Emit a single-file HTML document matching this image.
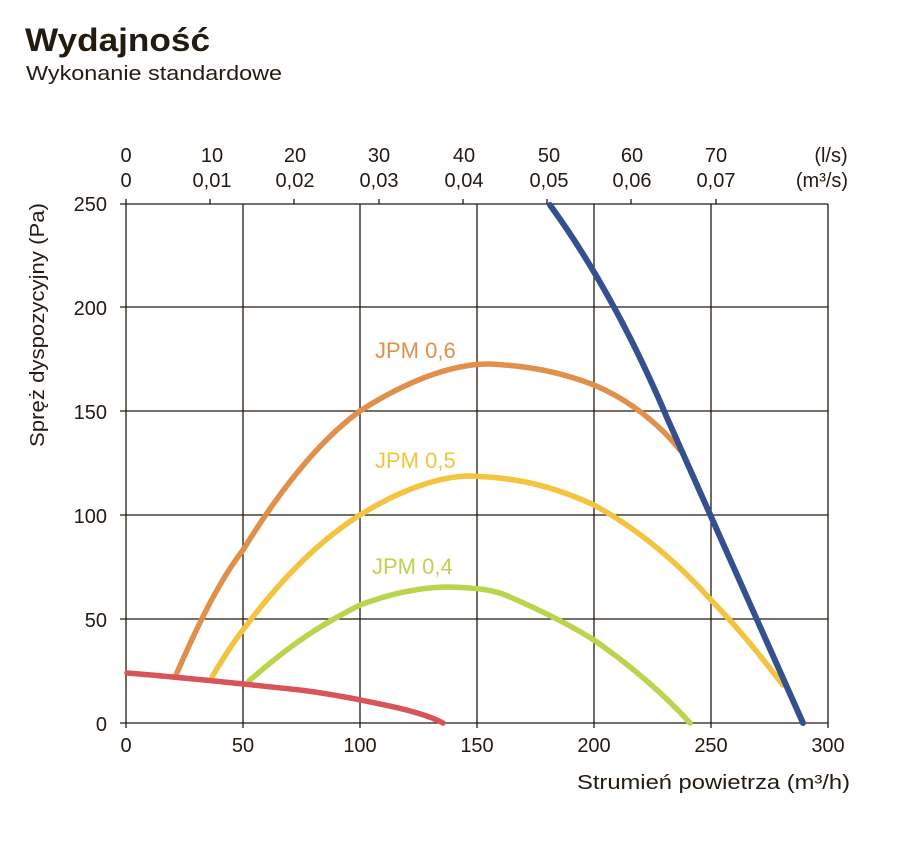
<!DOCTYPE html><html><head><style>body{margin:0;background:#fff}svg{display:block}text{font-family:"Liberation Sans",sans-serif;fill:#231a10}</style></head><body>
<svg width="905" height="847" viewBox="0 0 905 847">
<text x="25" y="51" font-size="32" font-weight="bold" textLength="185" lengthAdjust="spacingAndGlyphs">Wydajność</text>
<text x="26" y="80" font-size="20" textLength="256" lengthAdjust="spacingAndGlyphs">Wykonanie standardowe</text>
<g stroke="#231a10" stroke-width="1.3" fill="none">
<line x1="120" y1="204" x2="828" y2="204"/>
<line x1="120" y1="307" x2="828" y2="307"/>
<line x1="120" y1="411" x2="828" y2="411"/>
<line x1="120" y1="515" x2="828" y2="515"/>
<line x1="120" y1="619" x2="828" y2="619"/>
<line x1="120" y1="723" x2="828" y2="723"/>
<line x1="126" y1="199" x2="126" y2="728"/>
<line x1="243" y1="204" x2="243" y2="728"/>
<line x1="360" y1="204" x2="360" y2="728"/>
<line x1="477" y1="204" x2="477" y2="728"/>
<line x1="594" y1="204" x2="594" y2="728"/>
<line x1="711" y1="204" x2="711" y2="728"/>
<line x1="828" y1="204" x2="828" y2="728"/>
<line x1="210" y1="199" x2="210" y2="204"/><line x1="294" y1="199" x2="294" y2="204"/><line x1="379" y1="199" x2="379" y2="204"/><line x1="463" y1="199" x2="463" y2="204"/><line x1="547" y1="199" x2="547" y2="204"/><line x1="631" y1="199" x2="631" y2="204"/><line x1="716" y1="199" x2="716" y2="204"/>
</g>
<g font-size="20" text-anchor="middle">
<text x="126" y="162">0</text><text x="126" y="187">0</text>
<text x="212" y="162">10</text><text x="212" y="187">0,01</text>
<text x="295" y="162">20</text><text x="295" y="187">0,02</text>
<text x="379" y="162">30</text><text x="379" y="187">0,03</text>
<text x="464" y="162">40</text><text x="464" y="187">0,04</text>
<text x="549" y="162">50</text><text x="549" y="187">0,05</text>
<text x="632" y="162">60</text><text x="632" y="187">0,06</text>
<text x="716" y="162">70</text><text x="716" y="187">0,07</text>
<text x="831" y="162">(l/s)</text><text x="822" y="187">(m³/s)</text>
<text x="126" y="752">0</text><text x="243" y="752">50</text><text x="360" y="752">100</text><text x="477" y="752">150</text><text x="594" y="752">200</text><text x="711" y="752">250</text><text x="828" y="752">300</text>
</g>
<g font-size="20" text-anchor="end">
<text x="107" y="211">250</text><text x="107" y="315">200</text><text x="107" y="419">150</text><text x="107" y="523">100</text><text x="107" y="627">50</text><text x="107" y="731">0</text>
</g>
<text x="577" y="789" font-size="20" textLength="273" lengthAdjust="spacingAndGlyphs">Strumień powietrza (m³/h)</text>
<text transform="translate(44,447) rotate(-90)" font-size="20" textLength="244" lengthAdjust="spacingAndGlyphs">Spręż dyspozycyjny (Pa)</text>
<g fill="none" stroke-width="5.5" stroke-linecap="round">
<path d="M176,675 C200,620 220,580 243,550 C280,490 320,440 360,411 C400,385 450,363 490,364 C530,366 560,372 594,385 C630,400 660,425 680,450" stroke="#e0904a"/>
<path d="M212,677 C225,655 235,640 243,630 C280,580 320,540 360,515 C400,490 440,476 470,476 C500,477 540,480 594,505 C640,530 680,565 711,600 C745,635 765,662 783,685" stroke="#f3c440"/>
<path d="M249,681 C290,645 320,625 360,605 C400,590 430,587 450,587 C480,588 495,590 510,597 C540,610 570,625 594,640 C630,665 665,695 690,723" stroke="#b9d54e"/>
<path d="M127,673 C190,678 243,684 300,690 C340,695 360,700 380,704 C410,710 430,716 443,723" stroke="#d9545a"/>
<path d="M550,205 C590,260 630,330 668,420 C700,490 740,580 803,723" stroke="#35508f" stroke-width="6"/>
</g>
<g font-size="22">
<text x="375" y="358" style="fill:#e0904a">JPM 0,6</text>
<text x="375" y="468" style="fill:#f3c440">JPM 0,5</text>
<text x="372" y="574" style="fill:#b9d54e">JPM 0,4</text>
</g>
</svg></body></html>
